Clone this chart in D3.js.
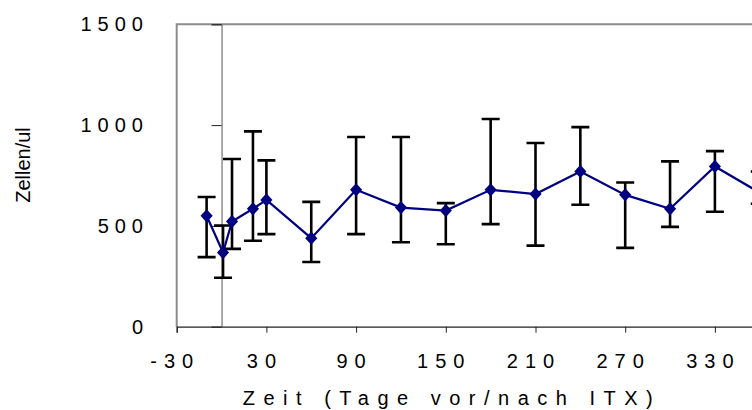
<!DOCTYPE html>
<html>
<head>
<meta charset="utf-8">
<script src="https://cdn.jsdelivr.net/npm/d3@7"></script>
<style>
  html, body { margin: 0; padding: 0; background: #fff; }
  svg { display: block; font-family: "Liberation Sans", Arial, sans-serif; }
</style>
</head>
<body>
<svg id="chart" width="752" height="410"></svg>
<script>
// Zeitpunkte (Tage relativ zur ITX)
const days  = [-10, 1, 7, 21, 30, 60, 90, 120, 150, 180, 210, 240, 270, 300, 330, 360];
// Mittelwerte (Zellen/ul)
const means = [550, 368, 522, 585, 629, 439, 679, 591, 576, 679, 658, 770, 654, 585, 795, 665];
// obere und untere Fehlerbalkengrenzen
const upper = [643, 502, 832, 969, 825, 619, 941, 941, 613, 1030, 911, 990, 715, 820, 871, 770];
const lower = [345, 243, 386, 426, 459, 321, 459, 419, 409, 509, 402, 605, 391, 495, 570, 610];
// Achsenbeschriftungen
const xTicks = [-30, 30, 90, 150, 210, 270, 330, 390];
const xLabels = [-30, 30, 90, 150, 210, 270, 330];
const yTicks = [0, 500, 1000, 1500];
const xTitle = "Zeit (Tage vor/nach ITX)";
const yTitle = "Zellen/ul";

const svg = d3.select("#chart");

const x = d3.scaleLinear().domain([-30, 390]).range([176.7, 804.6]);
const y = d3.scaleLinear().domain([0, 1500]).range([326.7, 24.3]);

const navy = "#000080";

// Rahmen der Zeichenfläche (links und oben)
svg.append("path")
  .attr("d", `M${x(-30)},${y(0)} V${y(1500)} H${x(390)}`)
  .attr("fill", "none").attr("stroke", "#8c8c8c").attr("stroke-width", 2);

// x-Achse unten
const xAxis = d3.axisBottom(x).tickValues(xTicks).tickSize(6).tickFormat("");
const gx = svg.append("g").attr("transform", `translate(0,${y(0)})`).call(xAxis);
gx.select(".domain").attr("stroke", "#222").attr("stroke-width", 1.2);
gx.selectAll(".tick line").attr("stroke", "#222");

// x-Beschriftungen
svg.append("g").selectAll("text").data(xLabels).join("text")
  .attr("x", d => x(d) - 1.5)
  .attr("y", 368)
  .attr("text-anchor", "middle")
  .attr("font-size", 20)
  .attr("letter-spacing", 7)
  .attr("fill", "#000")
  .text(d => d);

// y-Achse bei Tag 0
const yAxis = d3.axisLeft(y).tickValues(yTicks).tickSize(10).tickFormat("");
const gy = svg.append("g").attr("transform", `translate(${x(0)},0)`).call(yAxis);
gy.select(".domain").attr("stroke", "#555").attr("stroke-width", 1);
gy.selectAll(".tick line").attr("stroke", "#222");

// y-Beschriftungen links neben dem Rahmen
svg.append("g").selectAll("text").data(yTicks).join("text")
  .attr("x", 149)
  .attr("y", d => y(d) + 7)
  .attr("text-anchor", "end")
  .attr("font-size", 20)
  .attr("letter-spacing", 6)
  .attr("fill", "#000")
  .text(d => d);

// Achsentitel
svg.append("text")
  .attr("x", 452).attr("y", 405)
  .attr("text-anchor", "middle")
  .attr("font-size", 20)
  .attr("letter-spacing", 8.5)
  .text(xTitle);

svg.append("text")
  .attr("transform", `translate(30,165) rotate(-90)`)
  .attr("text-anchor", "middle")
  .attr("font-size", 20)
  .text(yTitle);

// Fehlerbalken
const capW = 9;
const eb = svg.append("g").attr("stroke", "#000").attr("stroke-width", 2.6).attr("fill", "none");
days.forEach((d, i) => {
  const cx = x(d);
  eb.append("path").attr("d",
    `M${cx},${y(upper[i])} V${y(lower[i])}` +
    ` M${cx - capW},${y(upper[i])} H${cx + capW}` +
    ` M${cx - capW},${y(lower[i])} H${cx + capW}`);
});

// Verlaufslinie der Mittelwerte
const line = d3.line().x((d, i) => x(days[i])).y(d => y(d));
svg.append("path").datum(means)
  .attr("d", line)
  .attr("fill", "none").attr("stroke", navy).attr("stroke-width", 2.2);

// Rautenmarker
const diamond = d3.symbol().type(d3.symbolDiamond).size(70);
svg.append("g").selectAll("path").data(means).join("path")
  .attr("d", diamond)
  .attr("transform", (d, i) => `translate(${x(days[i])},${y(d)}) scale(1.35,0.85)`)
  .attr("fill", navy);
</script>
</body>
</html>
